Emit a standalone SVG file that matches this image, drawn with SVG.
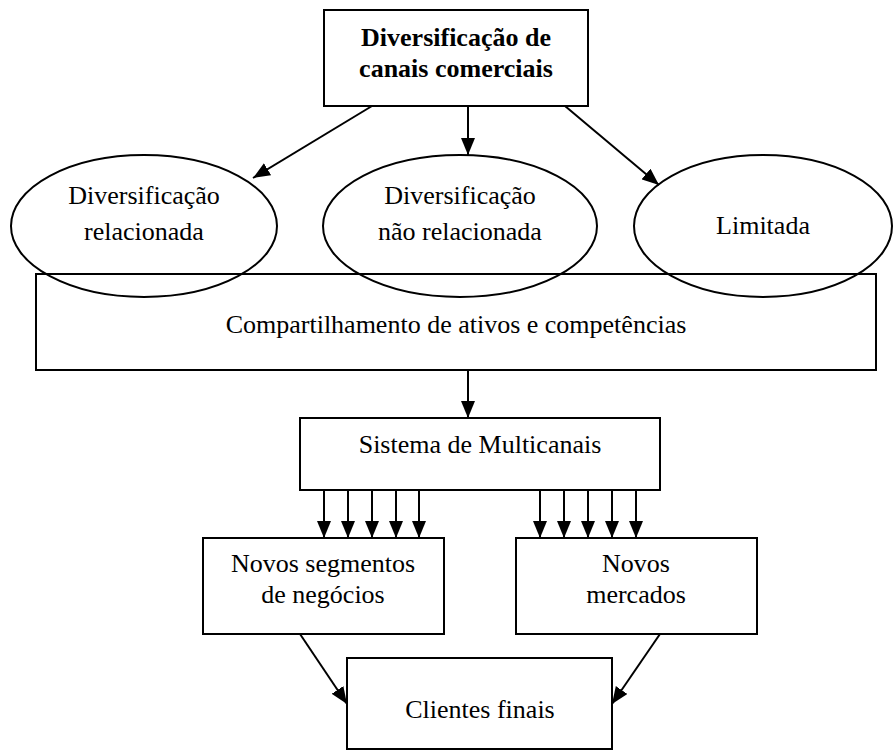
<svg xmlns="http://www.w3.org/2000/svg" width="893" height="751" viewBox="0 0 893 751">
<defs>
<style>
.box{fill:none;stroke:#000;stroke-width:2}
.ell{fill:none;stroke:#000;stroke-width:2}
.t{font-family:"Liberation Serif","Times New Roman",serif;font-size:26px;fill:#000;text-anchor:middle}
.b{font-weight:bold}
.c{stroke:#000;stroke-width:2;fill:none;marker-end:url(#ah)}
</style>
<marker id="ah" markerUnits="userSpaceOnUse" markerWidth="18" markerHeight="14" refX="17" refY="7" orient="auto">
<path d="M0,0 L17,7 L0,14 z" fill="#000"/>
</marker>
</defs>
<rect width="893" height="751" fill="#fff"/>
<g id="connectors">
<line class="c" x1="372" y1="106" x2="253" y2="178"/>
<line class="c" x1="468" y1="106" x2="468" y2="155"/>
<line class="c" x1="565" y1="106" x2="659" y2="185"/>
<line class="c" x1="468" y1="370" x2="468" y2="418"/>
<line class="c" x1="324" y1="490" x2="324" y2="538"/>
<line class="c" x1="348" y1="490" x2="348" y2="538"/>
<line class="c" x1="372" y1="490" x2="372" y2="538"/>
<line class="c" x1="396" y1="490" x2="396" y2="538"/>
<line class="c" x1="419" y1="490" x2="419" y2="538"/>
<line class="c" x1="540" y1="490" x2="540" y2="538"/>
<line class="c" x1="564" y1="490" x2="564" y2="538"/>
<line class="c" x1="588" y1="490" x2="588" y2="538"/>
<line class="c" x1="612" y1="490" x2="612" y2="538"/>
<line class="c" x1="636" y1="490" x2="636" y2="538"/>
<line class="c" x1="300" y1="634" x2="347" y2="704"/>
<line class="c" x1="660" y1="634" x2="612" y2="704"/>
</g>
<g id="top">
<rect class="box" x="324" y="10" width="264" height="96"/>
<text class="t b" x="456" y="46">Diversificação de</text>
<text class="t b" x="456" y="77">canais comerciais</text>
</g>
<g id="relacionada">
<ellipse class="ell" cx="144" cy="226" rx="133" ry="71"/>
<text class="t" x="144" y="204">Diversificação</text>
<text class="t" x="144" y="240">relacionada</text>
</g>
<g id="naorelacionada">
<ellipse class="ell" cx="460" cy="226" rx="137" ry="71"/>
<text class="t" x="460" y="204">Diversificação</text>
<text class="t" x="460" y="240">não relacionada</text>
</g>
<g id="limitada">
<ellipse class="ell" cx="763" cy="226" rx="129" ry="71"/>
<text class="t" x="763" y="234">Limitada</text>
</g>
<g id="compartilhamento">
<rect class="box" x="36" y="274" width="840" height="96"/>
<text class="t" x="456" y="333">Compartilhamento de ativos e competências</text>
</g>
<g id="sistema">
<rect class="box" x="300" y="418" width="360" height="72"/>
<text class="t" x="480" y="453">Sistema de Multicanais</text>
</g>
<g id="segmentos">
<rect class="box" x="203" y="538" width="241" height="96"/>
<text class="t" x="323" y="572">Novos segmentos</text>
<text class="t" x="323" y="603">de negócios</text>
</g>
<g id="mercados">
<rect class="box" x="516" y="538" width="241" height="96"/>
<text class="t" x="636" y="572">Novos</text>
<text class="t" x="636" y="603">mercados</text>
</g>
<g id="clientes">
<rect class="box" x="347" y="658" width="265" height="91"/>
<text class="t" x="480" y="718">Clientes finais</text>
</g>
</svg>
